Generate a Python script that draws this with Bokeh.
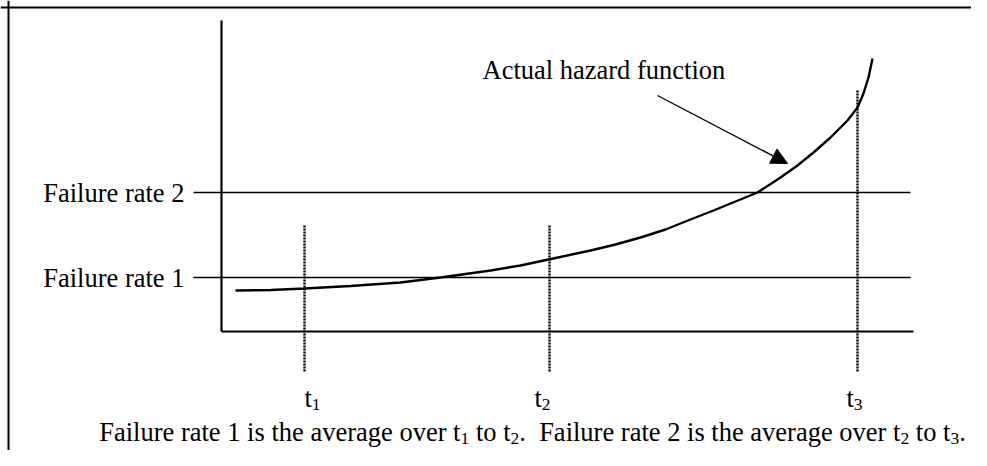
import re
from bokeh.plotting import figure
from bokeh.models import Range1d, Span, Arrow, NormalHead
from bokeh.core.properties import value
from bokeh.embed import file_html
from bokeh.resources import INLINE

# ---- data (diagram units: time along x, hazard along y; origin at the axes corner) ----
curve_t = [14, 49, 83, 129, 179, 219, 269, 299, 327, 369, 394, 419, 444, 469, 492, 514, 536,
           559, 576, 592, 609, 626, 636, 642, 647, 651]
curve_h = [41, 41.5, 43, 45.5, 49, 54, 61, 66, 72, 81, 87, 94, 102, 112, 121, 130, 139,
           154, 166, 179, 194, 211, 224, 238, 254, 273]

rate_names = ["Failure rate 1", "Failure rate 2"]
rate_levels = [54, 139]

t_names = ["t", "t", "t"]
t_subs = ["1", "2", "3"]
t_values = [83, 328, 636]
t_line_tops = [106, 106, 241]

curve_label = "Actual hazard function"
caption_runs = [("Failure rate 1 is the average over t", False), ("1", True), (" to t", False),
                ("2", True), (".  Failure rate 2 is the average over t", False), ("2", True),
                (" to t", False), ("3", True), (".", False)]

# ---- layout ----
W, H = 971, 450
X0, Y1 = -221, 331
FS, SFS = 26.5, 17.5          # main / subscript font size in px (1 data unit = 1 px)
SUB_DROP = 4.5
LIFT = 0.26                   # baseline correction (fraction of font size)

# Times-compatible advance widths (per 1000 em) for Liberation Serif
ADV = {' ': 250, 'F': 556, 'a': 444, 'i': 278, 'l': 278, 'u': 500, 'r': 333, 'e': 444,
       't': 278, 's': 389, 'h': 500, 'v': 500, 'g': 500, 'o': 500, '.': 250,
       '1': 500, '2': 500, '3': 500}

def width(s, size):
    return sum(ADV.get(c, 500) for c in s) * size / 1000.0

def base(y, size):
    return y + LIFT * size

p = figure(width=W, height=H, output_backend="svg", toolbar_location=None,
           x_range=Range1d(X0, X0 + W), y_range=Range1d(Y1 - H, Y1),
           x_axis_location=None, y_axis_location=None, min_border=0,
           background_fill_color="white", border_fill_color="white")
p.grid.visible = False
p.outline_line_color = None

FONT = value("Liberation Serif")

# page border (top and left edges)
p.add_layout(Span(location=-213, dimension="height", line_color="black", line_width=2))
p.add_layout(Span(location=324, dimension="width", line_color="black", line_width=2))

# axes
x_end, y_end = 692, 311
p.segment(x0=[0, 0], y0=[0, 0], x1=[0, x_end], y1=[y_end, 0], line_color="black", line_width=2.2)

# failure-rate levels
p.segment(x0=-28, x1=689, y0=rate_levels, y1=rate_levels, line_color="black", line_width=1.4)
p.text(x=-37, y=[base(lv - 7, FS) for lv in rate_levels], text=rate_names, text_align="right",
       text_baseline="alphabetic", text_font=FONT, text_font_size=f"{FS}px", text_color="black")

# time markers
p.segment(x0=t_values, x1=t_values, y0=-40, y1=t_line_tops, line_color="black",
          line_width=2.4, line_dash="2 1")
t_label_left = [83, 313, 625]
t_base = -73
p.text(x=t_label_left, y=base(t_base, FS), text=t_names, text_align="left",
       text_baseline="alphabetic", text_font=FONT, text_font_size=f"{FS}px", text_color="black")
p.text(x=[x + width("t", FS) for x in t_label_left], y=base(t_base - SUB_DROP, SFS), text=t_subs,
       text_align="left", text_baseline="alphabetic", text_font=FONT,
       text_font_size=f"{SFS}px", text_color="black")

# hazard curve
p.line(curve_t, curve_h, line_color="black", line_width=2.4)

# annotation
p.text(x=[261], y=[base(255, FS)], text=[curve_label], text_align="left", text_baseline="alphabetic",
       text_font=FONT, text_font_size=f"{FS}px", text_color="black")
p.add_layout(Arrow(x_start=436, y_start=236, x_end=566, y_end=168, line_color="black",
                   line_width=1.4, end=NormalHead(size=16, fill_color="black", line_color="black")))

# caption with subscripts, laid out run by run
cap_center, cap_base = 311, -107
total = sum(width(t, SFS if s else FS) for t, s in caption_runs)
x = cap_center - total / 2
mx, my, mt, sx, sy, st = [], [], [], [], [], []
for txt, sub in caption_runs:
    size = SFS if sub else FS
    for m in re.finditer(r"\S+(?: \S+)*", txt):
        px = x + width(txt[:m.start()], size)
        if sub:
            sx.append(px); sy.append(base(cap_base - SUB_DROP, SFS)); st.append(m.group())
        else:
            mx.append(px); my.append(base(cap_base, FS)); mt.append(m.group())
    x += width(txt, size)
p.text(x=mx, y=my, text=mt, text_align="left", text_baseline="alphabetic",
       text_font=FONT, text_font_size=f"{FS}px", text_color="black")
p.text(x=sx, y=sy, text=st, text_align="left", text_baseline="alphabetic",
       text_font=FONT, text_font_size=f"{SFS}px", text_color="black")

open("out.html", "w").write(file_html(p, INLINE))
